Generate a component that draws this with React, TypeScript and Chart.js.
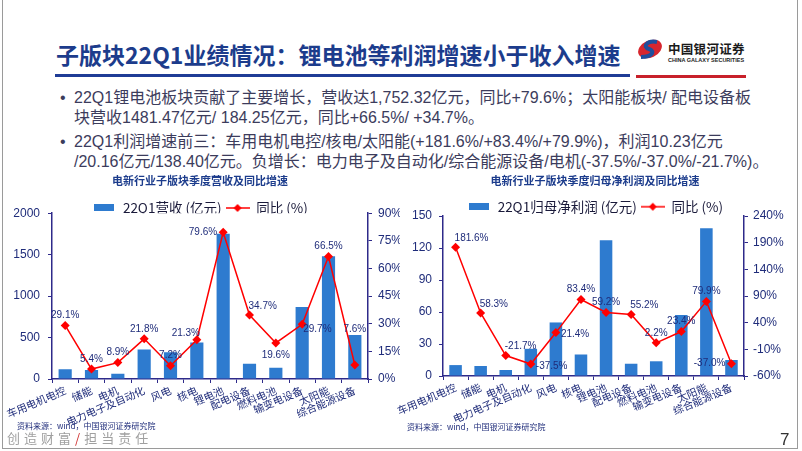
import React, { useEffect, useRef } from "react";
import { Chart, registerables } from "chart.js";

Chart.register(...registerables);

// ---------- data ----------
const CATEGORIES = [
  "车用电机电控",
  "储能",
  "电机",
  "电力电子及自动化",
  "风电",
  "核电",
  "锂电池",
  "配电设备",
  "燃料电池",
  "输变电设备",
  "太阳能",
  "综合能源设备",
];
const REVENUE = [117, 108, 62, 355, 322, 440, 1752.32, 184.25, 137, 870, 1481.47, 530];
const REVENUE_YOY = [29.1, 5.4, 8.9, 21.8, 7.2, 21.3, 79.6, 34.7, 19.6, 29.7, 66.5, 7.6];
const PROFIT = [10.23, 9.4, 5.6, 25.5, 50.2, 20.16, 127.2, 11.5, 13.8, 57.2, 138.4, 15];
const PROFIT_YOY = [181.6, 58.3, -21.7, -37.5, 21.4, 83.4, 59.2, 55.2, 2.2, 23.4, 79.9, -37.0];

const REVENUE_TICKS = [0, 500, 1000, 1500, 2000];
const REVENUE_YOY_TICKS = [0, 15, 30, 45, 60, 75, 90];
const PROFIT_TICKS = [0, 30, 60, 90, 120, 150];
const PROFIT_YOY_TICKS = [-60, -10, 40, 90, 140, 190, 240];

// label placement keys (style only)
const REVENUE_LABEL_PLACE = ["t", "t", "t", "t", "t", "tl", "l", "tr", "b", "br", "t", "T"];
const PROFIT_LABEL_PLACE = ["tr", "tr", "tr", "r", "r", "t", "t", "tr", "t", "t", "t", "l"];

// ---------- styles ----------
const CJK = '"Noto Sans CJK SC", "Noto Sans", sans-serif';
const NUM = '"Liberation Sans Narrow", "Liberation Sans", Arial, sans-serif';
const BAR_BLUE = "#2E7BCF";
const LINE_RED = "#FF0000";
const AXIS = "#2E2A8A";
const TICK = "#1F2C7A";
const TITLE_BLUE = "#1C3C8C";
const TEXT = "#3C3C5C";

function makeBarIcon(): HTMLCanvasElement {
  const c = document.createElement("canvas");
  c.width = 20;
  c.height = 7;
  const ctx = c.getContext("2d")!;
  ctx.fillStyle = BAR_BLUE;
  ctx.fillRect(0, 0, 20, 7);
  return c;
}

function makeLineIcon(): HTMLCanvasElement {
  const c = document.createElement("canvas");
  c.width = 24;
  c.height = 10;
  const ctx = c.getContext("2d")!;
  ctx.strokeStyle = LINE_RED;
  ctx.lineWidth = 1.5;
  ctx.beginPath();
  ctx.moveTo(0, 5);
  ctx.lineTo(24, 5);
  ctx.stroke();
  ctx.fillStyle = LINE_RED;
  ctx.beginPath();
  ctx.moveTo(12, 1);
  ctx.lineTo(16, 5);
  ctx.lineTo(12, 9);
  ctx.lineTo(8, 5);
  ctx.closePath();
  ctx.fill();
  return c;
}

const yoyLabelPlugin = {
  id: "yoyLabels",
  afterDatasetsDraw(chart: any, _args: any, opts: any) {
    const meta = chart.getDatasetMeta(1);
    const values = chart.data.datasets[1].data as number[];
    const places: string[] = opts.places || [];
    const ctx = chart.ctx as CanvasRenderingContext2D;
    ctx.save();
    ctx.font = `10px ${NUM}`;
    ctx.fillStyle = TICK;
    ctx.textBaseline = "middle";
    meta.data.forEach((pt: any, i: number) => {
      const text = values[i].toFixed(1) + "%";
      let x = pt.x;
      let y = pt.y;
      let align: CanvasTextAlign = "center";
      switch (places[i]) {
        case "T":
          y -= 36;
          break;
        case "tl":
          x -= 11;
          y -= 7;
          break;
        case "tr":
          x -= 1;
          y -= 9;
          align = "left";
          break;
        case "l":
          x -= 6;
          align = "right";
          break;
        case "r":
          x += 5;
          y += 2;
          align = "left";
          break;
        case "b":
          y += 12;
          break;
        case "br":
          x += 1;
          y += 5;
          align = "left";
          break;
        default:
          y -= 10;
      }
      ctx.textAlign = align;
      ctx.fillText(text, x, y);
    });
    ctx.restore();
  },
};

type ComboProps = {
  left: number;
  top: number;
  width: number;
  height: number;
  title: string;
  barLabel: string;
  lineLabel: string;
  bars: number[];
  line: number[];
  barTicks: number[];
  lineTicks: number[];
  places: string[];
  yWidth: number;
  y1Width: number;
  xHeight: number;
  titlePadTop: number;
  titlePadBottom: number;
  legendMax: number;
  yPad: number;
  y1Pad: number;
};

function ComboChart(p: ComboProps) {
  const ref = useRef<HTMLCanvasElement | null>(null);
  useEffect(() => {
    if (!ref.current) return;
    const barIcon = makeBarIcon();
    const lineIcon = makeLineIcon();
    const chart = new Chart(ref.current, {
      type: "bar",
      data: {
        labels: CATEGORIES,
        datasets: [
          {
            type: "bar",
            label: p.barLabel,
            data: p.bars,
            backgroundColor: BAR_BLUE,
            borderWidth: 0,
            barPercentage: 0.5,
            categoryPercentage: 1,
            yAxisID: "y",
            order: 1,
          } as any,
          {
            type: "line",
            label: p.lineLabel,
            data: p.line,
            borderColor: LINE_RED,
            borderWidth: 1.5,
            pointStyle: "rectRot",
            pointRadius: 4.5,
            pointBackgroundColor: LINE_RED,
            pointBorderColor: LINE_RED,
            pointBorderWidth: 0,
            tension: 0,
            fill: false,
            yAxisID: "y1",
            order: 0,
          } as any,
        ],
      },
      options: {
        animation: false,
        responsive: true,
        maintainAspectRatio: false,
        layout: { padding: 0 },
        plugins: {
          tooltip: { enabled: false },
          title: {
            display: true,
            text: p.title,
            color: TITLE_BLUE,
            font: { family: CJK, size: 11, weight: "bold" },
            padding: { top: p.titlePadTop, bottom: p.titlePadBottom },
          },
          legend: {
            display: true,
            position: "top",
            maxHeight: p.legendMax,
            labels: {
              usePointStyle: true,
              pointStyleWidth: 24,
              padding: 4,
              color: "#1A1A3A",
              font: { family: CJK, size: 13.5 },
              sort: (a: any, b: any) => a.datasetIndex - b.datasetIndex,
              generateLabels: (chart: any) => {
                const items = (Chart.defaults.plugins.legend.labels as any).generateLabels(chart);
                items.forEach((it: any) => {
                  it.pointStyle = it.datasetIndex === 0 ? barIcon : lineIcon;
                  it.fontColor = "#1A1A3A";
                });
                return items;
              },
            },
          },
          yoyLabels: { places: p.places },
        } as any,
        scales: {
          x: {
            offset: true,
            grid: {
              display: true,
              drawOnChartArea: false,
              drawTicks: true,
              tickLength: 4,
              color: AXIS,
              offset: true,
            },
            border: { display: true, color: AXIS, width: 1.5 },
            ticks: {
              color: TICK,
              font: { family: CJK, size: 10.5 },
              minRotation: 23,
              maxRotation: 23,
              autoSkip: false,
              padding: 1,
            },
            afterFit: (s: any) => {
              s.height = p.xHeight;
            },
          },
          y: {
            position: "left",
            min: p.barTicks[0],
            max: p.barTicks[p.barTicks.length - 1],
            grid: { drawOnChartArea: false, drawTicks: true, tickLength: 4, color: AXIS },
            border: { display: true, color: AXIS, width: 1.5 },
            ticks: {
              stepSize: p.barTicks[1] - p.barTicks[0],
              color: TICK,
              font: { family: NUM, size: 12 },
              padding: p.yPad,
              callback: (v: any) => String(v),
            },
            afterFit: (s: any) => {
              s.width = p.yWidth;
            },
          },
          y1: {
            position: "right",
            min: p.lineTicks[0],
            max: p.lineTicks[p.lineTicks.length - 1],
            grid: { drawOnChartArea: false, drawTicks: true, tickLength: 4, color: AXIS },
            border: { display: true, color: AXIS, width: 1.5 },
            ticks: {
              stepSize: p.lineTicks[1] - p.lineTicks[0],
              color: TICK,
              font: { family: NUM, size: 12 },
              padding: p.y1Pad,
              callback: (v: any) => `${v}%`,
            },
            afterFit: (s: any) => {
              s.width = p.y1Width;
            },
          },
        } as any,
      },
      plugins: [yoyLabelPlugin],
    });
    return () => chart.destroy();
  }, []);
  return (
    <div
      style={{
        position: "absolute",
        left: p.left,
        top: p.top,
        width: p.width,
        height: p.height,
      }}
    >
      <canvas ref={ref} />
    </div>
  );
}

const abs = (left: number, top: number, extra: React.CSSProperties = {}): React.CSSProperties => ({
  position: "absolute",
  left,
  top,
  whiteSpace: "nowrap",
  ...extra,
});

export default function App() {
  const bulletStyle: React.CSSProperties = {
    fontFamily: `"Liberation Sans", ${CJK}`,
    fontSize: 16,
    lineHeight: "20px",
    color: TEXT,
  };
  return (
    <div
      style={{
        position: "absolute",
        left: 0,
        top: 0,
        width: 802,
        height: 451,
        overflow: "hidden",
        background: "#ffffff",
        fontFamily: CJK,
      }}
    >
      {/* slide frame */}
      <div
        style={{
          position: "absolute",
          left: 2,
          top: -2,
          width: 794,
          height: 450,
          border: "1px solid #9A9A9A",
          borderTop: "none",
        }}
      />
      {/* title */}
      <div
        style={abs(56, 38, {
          fontSize: 23,
          fontWeight: "bold",
          color: TITLE_BLUE,
          lineHeight: "32px",
        })}
      >
        子版块22Q1业绩情况：锂电池等利润增速小于收入增速
      </div>
      <div style={{ position: "absolute", left: 55, top: 74, width: 575, height: 3, background: "#1F3C96" }} />
      <div style={{ position: "absolute", left: 636, top: 75, width: 110, height: 2.5, background: "#C8202A" }} />

      {/* logo */}
      <svg width={28} height={20} style={{ position: "absolute", left: 636, top: 39 }}>
        <ellipse cx={14} cy={10} rx={12.5} ry={8.5} fill="#D7262E" transform="rotate(-25 14 10)" />
        <path d="M21 3 C 11 1, 6 8, 13 10 C 19 12, 17 18, 5 18" stroke="#1F4E9C" strokeWidth={4} fill="none" />
      </svg>
      <div style={abs(668, 41, { fontSize: 12.5, fontWeight: "bold", color: "#1A1A1A", lineHeight: "16px", letterSpacing: 0.3 })}>
        中国银河证券
      </div>
      <div
        style={abs(668, 57, {
          fontSize: 5.5,
          fontWeight: "bold",
          color: "#1A1A1A",
          lineHeight: "6px",
          fontFamily: '"Liberation Sans", Arial, sans-serif',
        })}
      >
        CHINA GALAXY SECURITIES
      </div>

      {/* bullets */}
      <div style={abs(60, 88, bulletStyle)}>•</div>
      <div style={abs(74, 88, bulletStyle)}>
        22Q1锂电池板块贡献了主要增长，营收达1,752.32亿元，同比+79.6%；太阳能板块/ 配电设备板
      </div>
      <div style={abs(74, 108, bulletStyle)}>块营收1481.47亿元/ 184.25亿元，同比+66.5%/ +34.7%。</div>
      <div style={abs(60, 132, bulletStyle)}>•</div>
      <div style={abs(74, 132, bulletStyle)}>
        22Q1利润增速前三：车用电机电控/核电/太阳能(+181.6%/+83.4%/+79.9%)，利润10.23亿元
      </div>
      <div style={abs(74, 152, bulletStyle)}>
        /20.16亿元/138.40亿元。负增长：电力电子及自动化/综合能源设备/电机(-37.5%/-37.0%/-21.7%)。
      </div>

      {/* charts */}
      <ComboChart
        left={0}
        top={168}
        width={400}
        height={262}
        title="电新行业子版块季度营收及同比增速"
        barLabel="22Q1营收 (亿元)"
        lineLabel="同比 (%)"
        bars={REVENUE}
        line={REVENUE_YOY}
        barTicks={REVENUE_TICKS}
        lineTicks={REVENUE_YOY_TICKS}
        places={REVENUE_LABEL_PLACE}
        yWidth={52}
        y1Width={32}
        xHeight={51}
        titlePadTop={6}
        titlePadBottom={10}
        legendMax={16}
        yPad={8}
        y1Pad={6}
      />
      <ComboChart
        left={395}
        top={168}
        width={400}
        height={262}
        title="电新行业子版块季度归母净利润及同比增速"
        barLabel="22Q1归母净利润 (亿元)"
        lineLabel="同比 (%)"
        bars={PROFIT}
        line={PROFIT_YOY}
        barTicks={PROFIT_TICKS}
        lineTicks={PROFIT_YOY_TICKS}
        places={PROFIT_LABEL_PLACE}
        yWidth={38}
        y1Width={51}
        xHeight={54}
        titlePadTop={6.4}
        titlePadBottom={8.4}
        legendMax={20}
        yPad={7}
        y1Pad={5}
      />

      {/* sources */}
      <div style={abs(17, 421, { fontSize: 8, color: TICK, lineHeight: "10px" })}>资料来源：wind，中国银河证券研究院</div>
      <div style={abs(407, 422, { fontSize: 8, color: TICK, lineHeight: "10px" })}>资料来源：wind，中国银河证券研究院</div>

      {/* footer */}
      <div style={abs(7, 430, { fontSize: 13, color: "#A0A0A0", letterSpacing: 4, lineHeight: "16px" })}>
        创造财富<span style={{ color: "#D03030", letterSpacing: 4 }}>/</span>担当责任
      </div>
      <div style={abs(780, 430, { fontSize: 17, color: "#333333", lineHeight: "20px", fontFamily: '"Liberation Sans", Arial, sans-serif' })}>
        7
      </div>
    </div>
  );
}
